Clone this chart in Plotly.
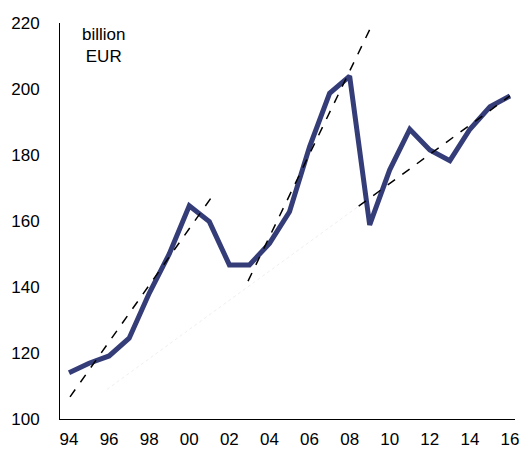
import plotly.graph_objects as go

years = list(range(1994, 2017))
values = [114.0, 116.9, 119.1, 124.5, 138.1, 150.0, 164.6, 159.8, 146.7, 146.7,
          153.2, 162.8, 182.5, 198.7, 203.9, 158.8, 175.5, 187.8, 181.5, 178.3,
          187.8, 194.6, 197.9]

# trend lines: (x0, y0, x1, y1)
trend1_x = [1994.05, 2001.1]
trend1_y = [106.7, 167.1]
trend2_x = [2002.93, 2009.13]
trend2_y = [141.8, 219.6]
trend3_faint_x = [1995.9, 2008.45]
trend3_faint_y = [109.0, 164.5]
trend3_x = [2008.45, 2016.0]
trend3_y = [164.5, 197.9]

tick_vals = list(range(1994, 2017, 2))
tick_text = [f"{y % 100:02d}" for y in tick_vals]

fig = go.Figure()
fig.add_trace(go.Scatter(x=trend3_faint_x, y=trend3_faint_y, mode="lines",
                         line=dict(color="#efefef", width=1, dash="dot"), hoverinfo="skip"))
fig.add_trace(go.Scatter(x=years, y=values, mode="lines",
                         line=dict(color="#353d78", width=5)))
for tx, ty in [(trend1_x, trend1_y), (trend2_x, trend2_y), (trend3_x, trend3_y)]:
    fig.add_trace(go.Scatter(x=tx, y=ty, mode="lines",
                             line=dict(color="black", width=1.5, dash="dash"), hoverinfo="skip"))

fig.update_layout(
    width=521, height=449,
    margin=dict(l=60, r=6, t=23, b=30, autoexpand=False),
    paper_bgcolor="white", plot_bgcolor="white",
    showlegend=False,
    font=dict(family="Liberation Sans, Arial, sans-serif", size=17, color="black"),
    xaxis=dict(range=[1993.55, 2016.25], tickvals=tick_vals, ticktext=tick_text,
               showgrid=False, zeroline=False, showline=True, linecolor="black", linewidth=1,
               ticks="", ticklabelstandoff=5, automargin=False),
    yaxis=dict(range=[100, 220], dtick=20, showgrid=False, zeroline=False,
               showline=True, linecolor="black", linewidth=1, ticks="", ticklabelstandoff=16,
               automargin=False),
    annotations=[dict(x=0.095, y=1.0, xref="paper", yref="paper", text="billion<br>EUR",
                      showarrow=False, align="center", xanchor="center", yanchor="top",
                      font=dict(size=17))],
)
fig.write_html("out.html", config={"displayModeBar": False},
               post_script="document.body.style.margin='0';document.body.style.padding='0';")
